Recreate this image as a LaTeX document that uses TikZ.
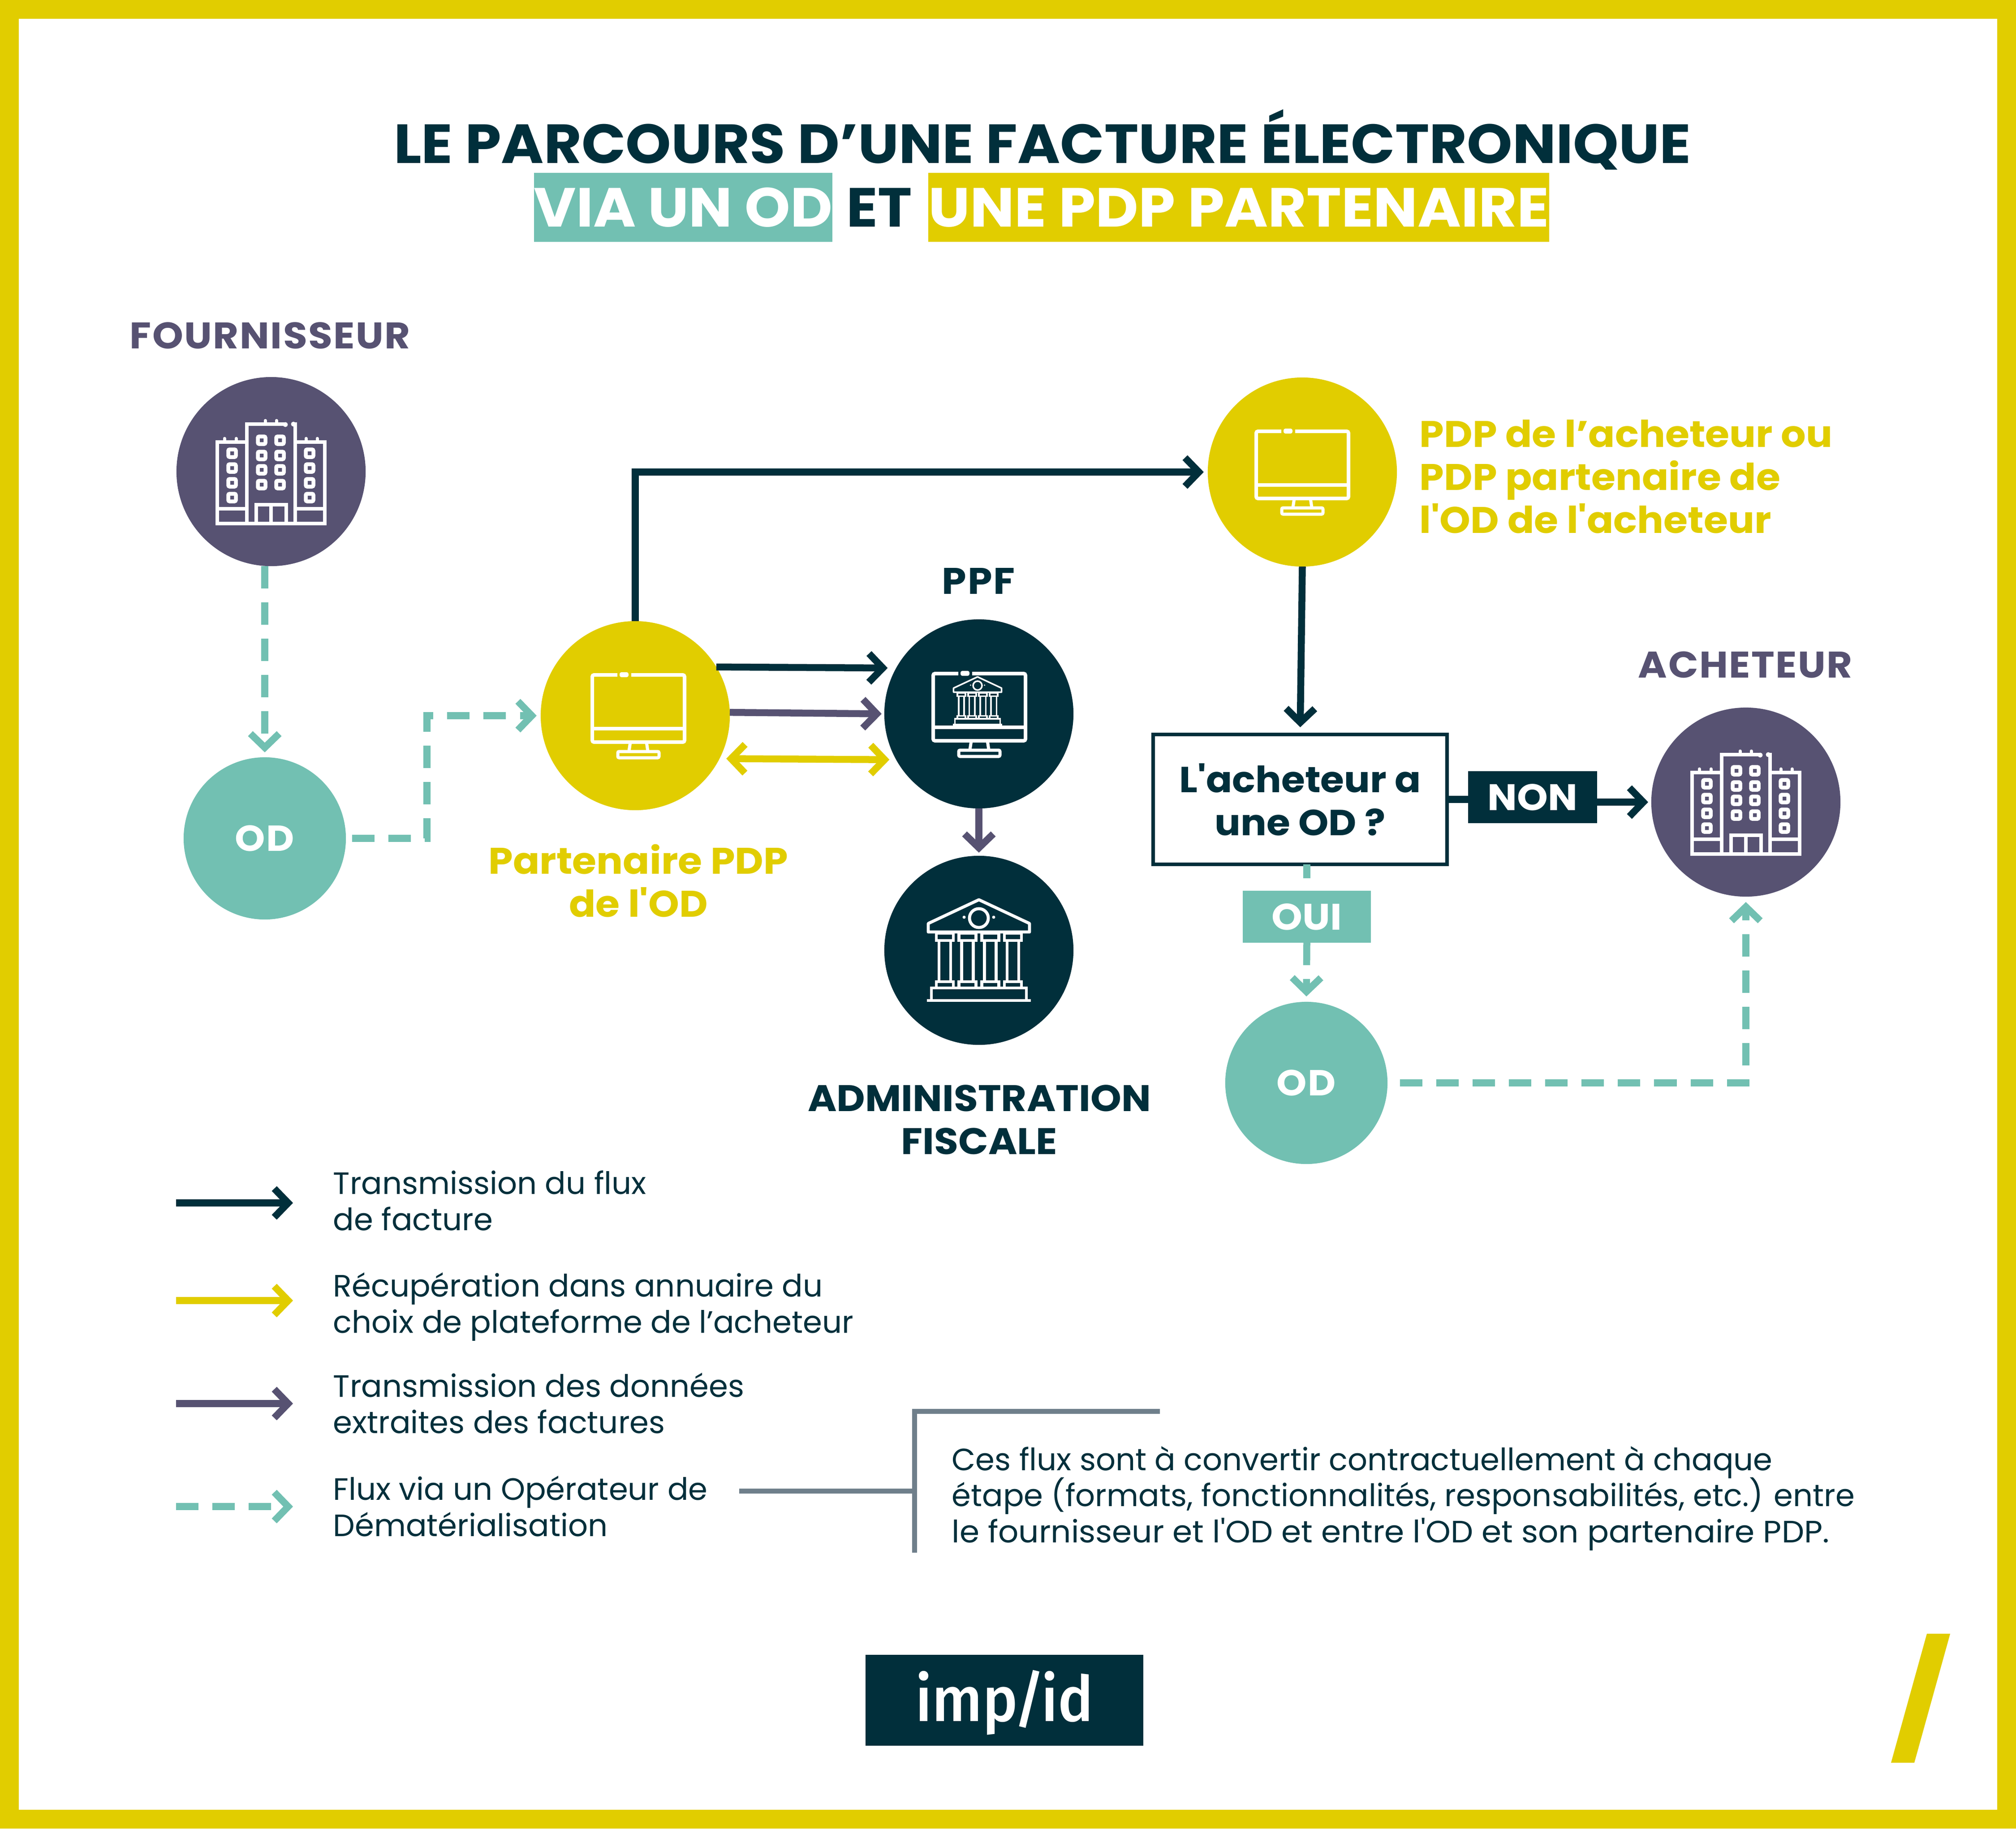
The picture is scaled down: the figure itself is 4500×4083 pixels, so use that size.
\documentclass[tikz,border=0pt]{standalone}
\usepackage{fontspec}
\usetikzlibrary{arrows.meta}
\setmainfont{Poppins}
\newfontfamily\titlefam{Poppins}[UprightFont=* Bold,FakeStretch=1.05]
\newfontfamily\titlewide{Poppins}[UprightFont=* Bold,FakeStretch=1.07]
\newfontfamily\boldfam{Poppins}[UprightFont=* Bold,FakeStretch=1.06]
\newfontfamily\widefam{Poppins}[UprightFont=* Bold,FakeStretch=1.06,LetterSpace=3]
\newfontfamily\mediumfam{Poppins}
\newfontfamily\logofam{Fira Sans}[UprightFont=* Medium,FakeStretch=0.94]
\definecolor{implidink}{HTML}{012F3B}
\definecolor{implidyellow}{HTML}{E1CD00}
\definecolor{implidteal}{HTML}{72C0B2}
\definecolor{implidpurple}{HTML}{575272}
\definecolor{implidgray}{HTML}{6F7F8B}
\tikzset{
  >={Straight Barb[length=0.31cm,width=0.64cm,line width=0.155cm]},
  roundnode/.style={circle,minimum size=4.22cm,inner sep=0pt,outer sep=0pt},
  smallround/.style={circle,minimum size=3.62cm,inner sep=0pt,outer sep=0pt,fill=implidteal,text=white,font=\widefam\fontsize{23}{27}\selectfont},
  biglabel/.style={anchor=base,align=center,inner sep=0pt,font=\boldfam\fontsize{23.5}{27.3}\selectfont},
  legendlabel/.style={anchor=base west,align=left,inner sep=0pt,text=implidink,font=\mediumfam\fontsize{19.6}{22.8}\selectfont,execute at begin node={\lineskip=0pt\lineskiplimit-20pt\relax}},
  tagbox/.style={inner sep=0pt,outer sep=0pt,text=white,text height=0.58cm,text depth=0pt,font=\boldfam\fontsize{23.5}{27}\selectfont},
  titlebox/.style={inner sep=0pt,outer sep=0pt,text=white,text height=0.86cm,text depth=0pt,font=\titlefam\fontsize{35}{40}\selectfont},
  flux/.style={line width=0.155cm},
  odflux/.style={line width=0.155cm,implidteal,dash pattern=on 0.5cm off 0.31cm},
  buildingicon/.pic={
    \draw [white,line width=0.08cm] (31,-106) -- (-54,-106) -- (-54,116);
    \draw [white,line width=0.08cm] (54,-110) -- (54,116);
    \draw [white,line width=0.08cm] (-54,-66) -- (-120,-66) -- (-120,116) -- (120,116) -- (120,-66) -- (54,-66);
    \draw [white,line width=0.08cm] (-120,83) -- (-54,83) (54,83) -- (120,83);
    \draw [white,line width=0.08cm] (-33,116) -- (-33,74) -- (34,74) -- (34,116) (0,74) -- (0,116);
    \foreach \wx in {-87,86} \foreach \wy in {-41,-8,25,58}
      \draw [white,line width=0.085cm,rounded corners=0.03cm] (\wx-8.5,\wy-8.5) rectangle (\wx+8.5,\wy+8.5);
    \foreach \wx in {-21,20} \foreach \wy in {-70,-36,-4,29}
      \draw [white,line width=0.085cm,rounded corners=0.03cm] (\wx-8.5,\wy-8.5) rectangle (\wx+8.5,\wy+8.5);
    \foreach \wx in {-104,-78,78,103}
      \draw [white,line width=0.07cm,line cap=round] (\wx,-68) -- (\wx,-74);
    \foreach \wx in {-13,12}
      \draw [white,line width=0.07cm,line cap=round] (\wx,-108) -- (\wx,-114);
    \fill [white] (32,-105) circle (5.5) (50,-106) circle (5.5);
  },
  monitoricon/.pic={
    \draw [white,line width=0.08cm,rounded corners=0.04cm] (-47,-91) -- (-103,-91) -- (-103,59) -- (103,59) -- (103,-91) -- (-16,-91);
    \draw [white,line width=0.08cm] (-103,29) -- (103,29);
    \fill [white,rounded corners=0.04cm] (-42,-97) rectangle (-22,-86);
    \draw [white,line width=0.07cm] (-18,59) -- (-21,79) (18,59) -- (21,79);
    \draw [white,line width=0.07cm,rounded corners=0.03cm] (-46,80) rectangle (46,94);
  },
  bankicon/.pic={
    \draw [white,line join=round] (-113,-60) -- (0,-113) -- (113,-60) -- (113,-41) -- (-113,-41) -- cycle;
    \draw [white] (0,-72) circle (21);
    \fill [white] (-33,-74) circle (3.5) (33,-74) circle (3.5);
    \foreach \cx in {-76,-25.5,25.5,76} {
      \draw [white] (\cx-19,-38) rectangle (\cx+19,-22);
      \draw [white] (\cx-13,-22) -- (\cx-13,70) (\cx+13,-22) -- (\cx+13,70);
      \draw [white] (\cx-19,70) rectangle (\cx+19,84);
    }
    \draw [white] (-106,84) rectangle (106,112);
    \draw [white] (-116,112) -- (116,112);
  }
}
\begin{document}
\begin{tikzpicture}[x=0.01cm,y=-0.01cm]
  \useasboundingbox (0,0) rectangle (4500,4083);
  \fill [white] (0,0) rectangle (4500,4083);
  \draw [implidyellow,line width=0.42cm] (21,21) rectangle (4479,4062);

  \node (titlea) [anchor=base,inner sep=0pt,text=implidink,font=\titlefam\fontsize{35}{40}\selectfont] at (2327,364) {LE PARCOURS D’UNE FACTURE ÉLECTRONIQUE};
  \node (titleb) [titlebox,fill=implidteal,minimum width=6.63cm,minimum height=1.53cm] at (1525,463) {VIA UN OD};
  \node (titlec) [titlebox,text=implidink] at (1963,463) {ET};
  \node (titled) [titlebox,fill=implidyellow,minimum width=13.86cm,minimum height=1.53cm,font=\titlewide\fontsize{35}{40}\selectfont] at (2765,463) {UNE PDP PARTENAIRE};

  \node (fournisseur) [roundnode,fill=implidpurple] at (605,1053) {};
  \node (oda) [smallround] at (591,1872) {OD};
  \node (partner) [roundnode,fill=implidyellow] at (1418,1598) {};
  \node (ppf) [roundnode,fill=implidink] at (2185,1594) {};
  \node (admin) [roundnode,fill=implidink] at (2185,2122) {};
  \node (pdp) [roundnode,fill=implidyellow] at (2907,1054) {};
  \node (acheteur) [roundnode,fill=implidpurple] at (3897,1791) {};
  \node (odb) [smallround] at (2916,2418) {OD};

  \pic at (605,1053) {buildingicon};
  \pic at (3897,1791) {buildingicon};
  \pic at (1425,1598) {monitoricon};
  \pic at (2186,1595) {monitoricon};
  \pic at (2907,1054) {monitoricon};
  \pic [line width=0.068cm] at (2185,2122) {bankicon};
  \pic [line width=0.035cm,scale=0.475] at (2182,1565) {bankicon};

  \node (fournisseurlabel) [biglabel,font=\widefam\fontsize{23.5}{27.3}\selectfont,text=implidpurple] at (603,778) {FOURNISSEUR};
  \node (acheteurlabel) [biglabel,font=\widefam\fontsize{23.5}{27.3}\selectfont,text=implidpurple] at (3896,1513) {ACHETEUR};
  \node (ppflabel) [biglabel,font=\widefam\fontsize{23.5}{27.3}\selectfont,text=implidink] at (2184,1326) {PPF};
  \node (partnerlabel) [biglabel,text=implidyellow] at (1425,2047) {Partenaire PDP\\de l'OD};
  \node (adminlabel) [biglabel,text=implidink] at (2186,2577) {ADMINISTRATION\\FISCALE};
  \node (pdplabel) [biglabel,anchor=base west,align=left,text=implidyellow] at (3168,1190) {PDP de l’acheteur ou\\PDP partenaire de\\l'OD de l'acheteur};

  \node (decision) [draw=implidink,line width=0.08cm,minimum width=6.56cm,minimum height=2.90cm,inner sep=0pt,outer sep=0pt,align=center,text=implidink,font=\boldfam\fontsize{23}{27.3}\selectfont] at (2902,1785) {L'acheteur a\\une OD ?};
  \node (non) [tagbox,fill=implidink,minimum width=2.87cm,minimum height=1.16cm] at (3421,1780) {NON};
  \node (oui) [tagbox,fill=implidteal,minimum width=2.85cm,minimum height=1.16cm] at (2917,2047) {OUI};

  \draw [->,flux,implidink,shorten >=0.09cm] (partner.north) |- (pdp.west);
  \draw [->,flux,implidink,shorten >=0.19cm] (partner.31) -- (ppf.151);
  \draw [->,flux,implidpurple,shorten >=0.06cm] (partner.2) -- (ppf.west);
  \draw [<->,flux,implidyellow,shorten >=0.15cm,shorten <=0.15cm] (partner.-27) -- (ppf.209);
  \draw [->,flux,implidpurple,shorten >=0.07cm] (ppf.south) -- (admin.north);
  \draw [->,flux,implidink,shorten >=0.16cm] (pdp.south) -- (decision.north);
  \draw [flux,implidink] (decision.east) -- (decision.east -| non.west);
  \draw [->,flux,implidink,shorten >=0.07cm] (non.east |- acheteur.west) -- (acheteur.west);

  \coordinate (odaturn) at (953,1598);
  \draw [->,odflux,shorten >=0.11cm] (fournisseur.south -| oda.north) -- (oda.north);
  \draw [->,odflux,shorten <=0.14cm,shorten >=0.09cm] (oda.east) -| (odaturn) -- (partner.west);
  \draw [odflux,shorten >=0.28cm] (decision.south -| oui.north) -- (oui.north);
  \draw [->,odflux,shorten >=0.12cm] (oui.south) -- (odb.north);
  \draw [->,odflux,shorten <=0.28cm,shorten >=0.12cm] (odb.east) -| (acheteur.south);

  \coordinate (legaa) at (393,2686);
  \coordinate (legab) at (654,2686);
  \coordinate (legba) at (393,2904);
  \coordinate (legbb) at (654,2904);
  \coordinate (legca) at (393,3134);
  \coordinate (legcb) at (654,3134);
  \coordinate (legda) at (393,3364);
  \coordinate (legdb) at (654,3364);
  \draw [->,flux,implidink] (legaa) -- (legab);
  \draw [->,flux,implidyellow] (legba) -- (legbb);
  \draw [->,flux,implidpurple] (legca) -- (legcb);
  \draw [->,odflux] (legda) -- (legdb);

  \node (lega) [legendlabel] at (743,2747) {Transmission du flux\\de facture};
  \node (legb) [legendlabel] at (743,2976) {Récupération dans annuaire du\\choix de plateforme de l’acheteur};
  \node (legc) [legendlabel] at (743,3200) {Transmission des données\\extraites des factures};
  \node (legd) [legendlabel] at (743,3430) {Flux via un Opérateur de\\Dématérialisation};

  \coordinate (notefrom) at (1650,3329);
  \coordinate (notemid) at (2041,3329);
  \coordinate (notetop) at (2041,3151);
  \coordinate (noteend) at (2589,3151);
  \coordinate (notebot) at (2041,3467);
  \draw [implidgray,line width=0.11cm] (notefrom) -- (notemid);
  \draw [implidgray,line width=0.11cm] (noteend) -- (notetop) -- (notebot);
  \node (note) [legendlabel] at (2124,3444) {Ces flux sont à convertir contractuellement à chaque\\étape (formats, fonctionnalités, responsabilités, etc.) entre\\{\addfontfeature{FakeStretch=1.03}le fournisseur et l'OD et entre l'OD et son partenaire PDP.}};

  \node (logo) [fill=implidink,minimum width=6.2cm,minimum height=2.03cm,inner sep=0pt,text=white,text height=0.95cm,text depth=0.01cm,font=\logofam\fontsize{40}{44}\selectfont] at (2242,3796) {imp\kern-0.06em/\kern-0.06em id};
  \fill [implidyellow] (4301,3648) -- (4353,3648) -- (4273,3936) -- (4221,3936) -- cycle;
\end{tikzpicture}
\end{document}
